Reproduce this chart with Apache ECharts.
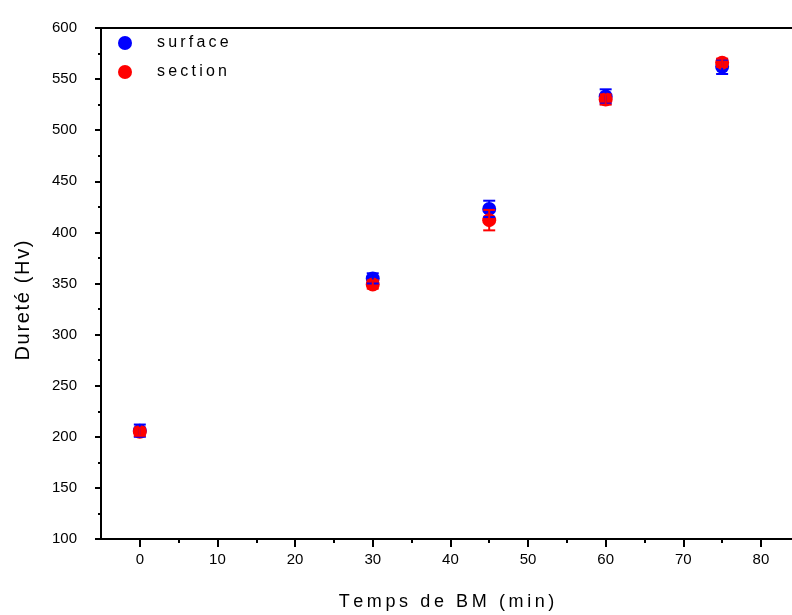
<!DOCTYPE html>
<html>
<head>
<meta charset="utf-8">
<script src="https://cdn.jsdelivr.net/npm/echarts@6/dist/echarts.min.js"></script>
<style>html,body{margin:0;padding:0;background:#fff}#c{width:792px;height:615px}</style>
</head>
<body>
<div id="c"></div>
<script>
const times = [0, 30, 45, 60, 75];
const surface = [206, 355, 423, 533, 562];
const surfaceErr = [6, 5, 8, 7, 7];
const section = [205, 349, 412, 530, 566];
const sectionErr = [4, 4, 10, 5, 4];
const xMajorTicks = [0, 10, 20, 30, 40, 50, 60, 70, 80];
const xMinorTicks = [5, 15, 25, 35, 45, 55, 65, 75];
const seriesNames = ['surface', 'section'];
const xTitle = 'Temps de BM (min)';
const yTitle = 'Dureté (Hv)';

const FONT = 'Liberation Sans, Arial, sans-serif';
const spaced = s => s.split('').join('\u2009');
const hairSpaced = s => s.split('').join('\u200A');

function errData(vals, errs) {
  return times.map((t, i) => [t, vals[i] - errs[i], vals[i] + errs[i]]);
}
function errRender(color) {
  return function (params, api) {
    const x = api.value(0);
    const lo = api.coord([x, api.value(1)]);
    const hi = api.coord([x, api.value(2)]);
    const w = 6;
    const style = { stroke: color, lineWidth: 2 };
    return {
      type: 'group',
      children: [
        { type: 'line', shape: { x1: lo[0], y1: lo[1], x2: hi[0], y2: hi[1] }, style },
        { type: 'line', shape: { x1: lo[0] - w, y1: lo[1], x2: lo[0] + w, y2: lo[1] }, style },
        { type: 'line', shape: { x1: hi[0] - w, y1: hi[1], x2: hi[0] + w, y2: hi[1] }, style }
      ]
    };
  };
}

const chart = echarts.init(document.getElementById('c'), null, { renderer: 'canvas' });
chart.setOption({
  animation: false,
  backgroundColor: '#fff',
  textStyle: { fontFamily: FONT },
  grid: { left: 101, right: 0, top: 28, bottom: 76, containLabel: false, outerBoundsMode: 'none' },
  legend: {
    orient: 'vertical', left: 113, top: 30, itemWidth: 14, itemHeight: 14, itemGap: 13,
    data: seriesNames.map(n => ({ name: n, icon: 'circle' })),
    formatter: n => spaced(n),
    textStyle: { fontSize: 16, color: '#000', padding: [0, 0, 0, 20], fontFamily: FONT }
  },
  xAxis: [
    {
      type: 'value', min: -5, max: 84, position: 'bottom',
      splitLine: { show: false },
      axisLine: { show: true, onZero: false, lineStyle: { color: '#000', width: 2 } },
      axisTick: { show: true, customValues: xMajorTicks, length: 8, lineStyle: { color: '#000', width: 2 } },
      axisLabel: { customValues: xMajorTicks, fontSize: 15, color: '#000', margin: 13, fontFamily: FONT },
      name: spaced(xTitle), nameLocation: 'middle', nameGap: 54,
      nameTextStyle: { fontSize: 18, color: '#000', fontFamily: FONT }
    },
    {
      type: 'value', min: -5, max: 84, position: 'bottom',
      splitLine: { show: false },
      axisLine: { show: false, onZero: false },
      axisTick: { show: true, customValues: xMinorTicks, length: 4, lineStyle: { color: '#000', width: 2 } },
      axisLabel: { show: false }
    },
    {
      type: 'value', min: -5, max: 84, position: 'top',
      splitLine: { show: false },
      axisLine: { show: true, onZero: false, lineStyle: { color: '#000', width: 2 } },
      axisTick: { show: false },
      axisLabel: { show: false }
    }
  ],
  yAxis: {
    type: 'value', min: 100, max: 600, interval: 50,
    splitLine: { show: false },
    axisLine: { show: true, onZero: false, lineStyle: { color: '#000', width: 2 } },
    axisTick: { show: true, length: 6, lineStyle: { color: '#000', width: 2 } },
    minorTick: { show: true, splitNumber: 2, length: 3, lineStyle: { color: '#000', width: 2 } },
    axisLabel: { fontSize: 15, color: '#000', margin: 24, fontFamily: FONT },
    name: hairSpaced(yTitle), nameLocation: 'middle', nameGap: 68, nameRotate: 90,
    nameTextStyle: { fontSize: 20, color: '#000', fontFamily: FONT, padding: [0, 34, 0, 0] }
  },
  series: [
    {
      name: seriesNames[0], type: 'scatter', symbol: 'circle', symbolSize: 14,
      itemStyle: { color: '#0000ff', opacity: 1 }, z: 2,
      data: times.map((t, i) => [t, surface[i]])
    },
    {
      name: seriesNames[1], type: 'scatter', symbol: 'circle', symbolSize: 14,
      itemStyle: { color: '#ff0000', opacity: 1 }, z: 3,
      data: times.map((t, i) => [t, section[i]])
    },
    {
      name: seriesNames[0] + ' err', type: 'custom', renderItem: errRender('#0000ff'), z: 4,
      encode: { x: 0, y: [1, 2] }, data: errData(surface, surfaceErr)
    },
    {
      name: seriesNames[1] + ' err', type: 'custom', renderItem: errRender('#ff0000'), z: 5,
      encode: { x: 0, y: [1, 2] }, data: errData(section, sectionErr)
    }
  ]
});
</script>
</body>
</html>
